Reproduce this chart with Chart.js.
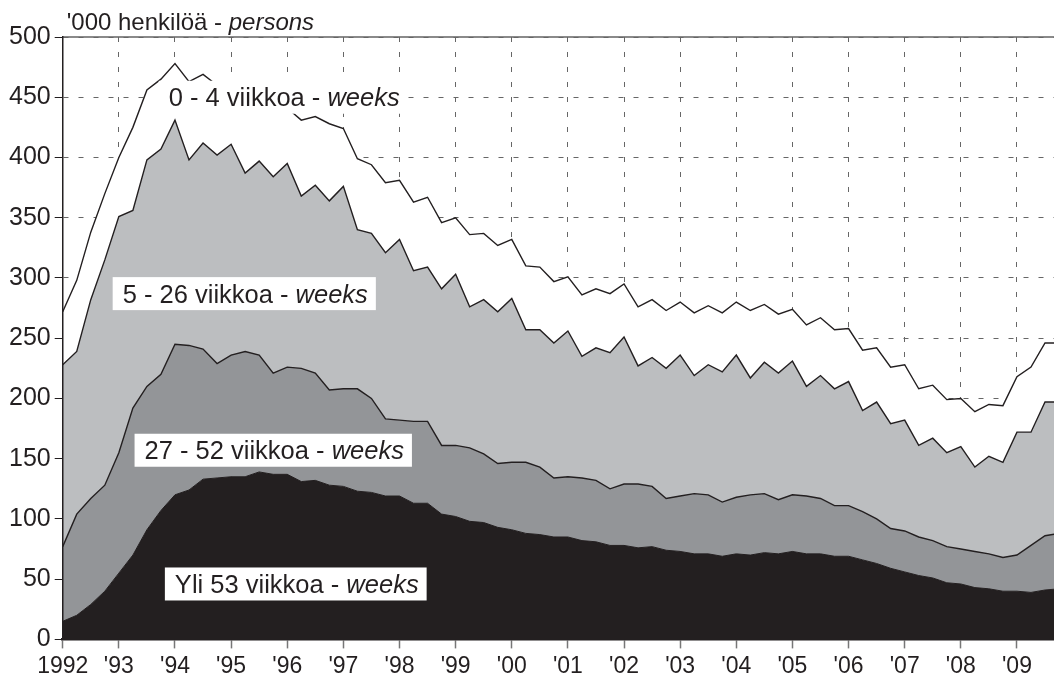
<!DOCTYPE html>
<html>
<head>
<meta charset="utf-8">
<script src="https://cdn.jsdelivr.net/npm/chart.js@4.4.1/dist/chart.umd.min.js"></script>
<style>
  html, body { margin: 0; padding: 0; background: #fff; }
  .wrap { width: 1054px; height: 684px; }
</style>
</head>
<body>
<div class="wrap"><canvas id="myChart"></canvas></div>
<script>
// quarterly, 1992 Q1 .. 2009 Q4 (last quarter only pads the right edge)
const quarters = [];
for (let y = 1992; y <= 2009; y++) {
  for (let q = 1; q <= 4; q++) quarters.push(y + " Q" + q);
}

const yearTicks = [1992, 1993, 1994, 1995, 1996, 1997, 1998, 1999, 2000,
  2001, 2002, 2003, 2004, 2005, 2006, 2007, 2008, 2009];
const yearLabels = ["1992", "'93", "'94", "'95", "'96", "'97", "'98", "'99", "'00",
  "'01", "'02", "'03", "'04", "'05", "'06", "'07", "'08", "'09"];

// '000 persons, by duration of unemployment
const yli53 = [15,20,29,40, 55,70,91,107, 120,124,133,134, 135,135,139,137,
  137,131,132,128, 127,123,122,119, 119,113,113,104, 102,98,97,93,
  91,88,87,85, 85,82,81,78, 78,76,77,74, 73,71,71,69, 71,70,72,71,
  73,71,71,69, 69,66,63,59, 56,53,51,47, 46,43,42,40, 40,39,41,42];
const w27_52 = [62,84,88,88, 100,122,119,113, 125,120,108,95, 101,104,97,84,
  89,94,89,79, 81,85,78,64, 63,68,68,57, 59,61,57,53,
  56,59,56,49, 50,52,51,47, 51,53,50,43, 46,50,49,45, 47,50,49,45,
  47,48,46,42, 42,40,37,33, 34,32,31,30, 29,30,29,28, 30,39,45,46];
const w5_26 = [151,135,165,187, 196,164,188,187, 186,154,171,173, 175,148,161,163,
  169,143,156,157, 168,132,137,138, 150,125,128,130, 142,117,128,126,
  136,110,114,112, 121,101,110,113, 122,98,107,108, 117,98,108,108, 118,97,109,105,
  111,91,102,97, 103,84,97,87, 92,76,85,78, 85,70,81,79, 102,94,111,109];
const w0_4 = [44,59,56,55, 49,69,58,58, 47,65,57,58, 44,58,53,59,
  46,63,57,64, 48,59,57,58, 49,57,58,55, 47,60,55,55,
  49,53,52,51, 45,51,49,49, 44,49,48,48, 44,52,49,49, 44,56,48,49,
  43,51,48,49, 44,50,45,47, 46,47,44,44, 40,46,43,47, 46,54,49,49];

const fam = '"Liberation Sans", Arial, Helvetica, sans-serif';
const ink = "#231f20";

function qx(label) {
  const parts = label.split(" Q");
  return parseInt(parts[0]) + (parseInt(parts[1]) - 1) / 4;
}
function pts(arr) {
  return arr.map((v, i) => ({ x: qx(quarters[i]), y: v }));
}

// text boxes placed in data units (left edge year, centre value)
const boxLabels = [
  { text: "0 - 4 viikkoa - ", em: "weeks", x: 1993.71, y: 450 },
  { text: "5 - 26 viikkoa - ", em: "weeks", x: 1992.89, y: 287 },
  { text: "27 - 52 viikkoa - ", em: "weeks", x: 1993.28, y: 157 },
  { text: "Yli 53 viikkoa - ", em: "weeks", x: 1993.82, y: 46 },
];

const framePlugin = {
  id: "frame",
  beforeDraw(chart) {
    const { ctx, chartArea } = chart;
    ctx.save();
    ctx.strokeStyle = "#8a8a8a";
    ctx.lineWidth = 2;
    ctx.beginPath();
    ctx.moveTo(chartArea.left, chartArea.top);
    ctx.lineTo(chartArea.right, chartArea.top);
    ctx.stroke();
    ctx.restore();
  },
  afterDraw(chart) {
    const { ctx, chartArea } = chart;
    ctx.save();
    ctx.fillStyle = ink;
    ctx.textBaseline = "alphabetic";
    ctx.font = "24px " + fam;
    const t1 = "'000 henkilöä - ";
    const x0 = chartArea.left + 4;
    const y0 = chartArea.top - 7;
    ctx.fillText(t1, x0, y0);
    const w = ctx.measureText(t1).width;
    ctx.font = "italic 24px " + fam;
    ctx.fillText("persons", x0 + w, y0);
    ctx.restore();
  },
};

const labelPlugin = {
  id: "boxLabels",
  afterDatasetsDraw(chart) {
    const ctx = chart.ctx;
    const xs = chart.scales.x, ys = chart.scales.y;
    ctx.save();
    boxLabels.forEach((l) => {
      const left = xs.getPixelForValue(l.x);
      const cy = ys.getPixelForValue(l.y);
      ctx.font = "25.5px " + fam;
      const w1 = ctx.measureText(l.text).width;
      ctx.font = "italic 25.5px " + fam;
      const w2 = ctx.measureText(l.em).width;
      ctx.fillStyle = "#fff";
      ctx.fillRect(left, cy - 16.5, 10 + w1 + w2 + 8, 33);
      ctx.fillStyle = ink;
      ctx.textBaseline = "alphabetic";
      ctx.font = "25.5px " + fam;
      ctx.fillText(l.text, left + 10, cy + 9);
      ctx.font = "italic 25.5px " + fam;
      ctx.fillText(l.em, left + 10 + w1, cy + 9);
    });
    ctx.restore();
  },
};

const chart1 = document.getElementById("myChart");

var myChart = new Chart(chart1, {
  type: "line",
  data: {
    datasets: [
      {
        label: "Yli 53 viikkoa - weeks",
        data: pts(yli53),
        backgroundColor: ink,
        borderColor: ink,
        borderWidth: 1,
        fill: "origin",
      },
      {
        label: "27 - 52 viikkoa - weeks",
        data: pts(w27_52),
        backgroundColor: "#939598",
        borderColor: ink,
        borderWidth: 1.4,
        fill: "-1",
      },
      {
        label: "5 - 26 viikkoa - weeks",
        data: pts(w5_26),
        backgroundColor: "#bcbec0",
        borderColor: ink,
        borderWidth: 1.4,
        fill: "-1",
      },
      {
        label: "0 - 4 viikkoa - weeks",
        data: pts(w0_4),
        backgroundColor: "#ffffff",
        borderColor: ink,
        borderWidth: 1.4,
        fill: "-1",
      },
    ],
  },
  options: {
    responsive: true,
    maintainAspectRatio: false,
    animation: false,
    devicePixelRatio: 1,
    layout: {
      padding: { left: 5, right: 0, top: 37, bottom: 0 },
    },
    elements: {
      point: { radius: 0, hoverRadius: 0 },
      line: { tension: 0 },
    },
    scales: {
      x: {
        type: "linear",
        min: 1992,
        max: 2009.66,
        afterBuildTicks: (axis) => {
          axis.ticks = yearTicks.map((v) => ({ value: v }));
        },
        ticks: {
          color: ink,
          padding: 4,
          maxRotation: 0,
          autoSkip: false,
          font: { size: 23, family: fam },
          callback: (v, i) => yearLabels[i],
        },
        grid: {
          color: "#666",
          lineWidth: 1,
          tickLength: 9,
          tickColor: "#777",
          tickWidth: 1.5,
        },
        border: { display: true, color: ink, width: 2.5, dash: [5, 10], z: 1 },
      },
      y: {
        stacked: true,
        min: 0,
        max: 500,
        ticks: {
          stepSize: 50,
          color: ink,
          padding: 4,
          font: { size: 25, family: fam },
        },
        grid: {
          color: "#666",
          lineWidth: 1,
          tickLength: 8,
          tickColor: ink,
          tickWidth: 1,
        },
        border: { display: true, color: ink, width: 1.5, dash: [5, 10], z: 1 },
      },
    },
    plugins: {
      legend: { display: false },
      tooltip: { enabled: false },
    },
  },
  plugins: [framePlugin, labelPlugin],
});
</script>
</body>
</html>
